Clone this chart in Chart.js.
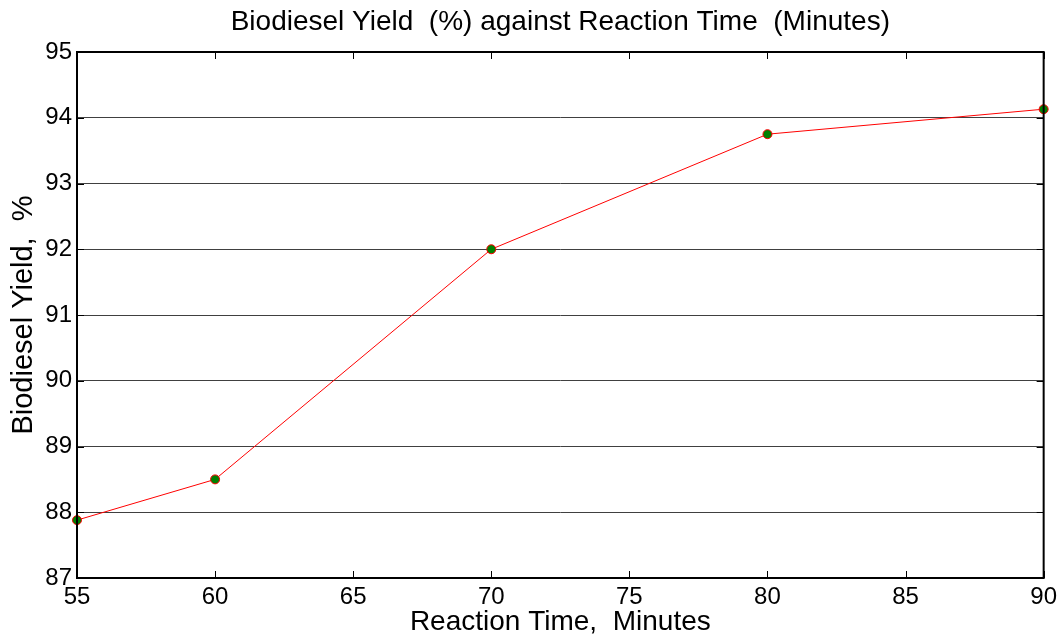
<!DOCTYPE html>
<html>
<head>
<meta charset="utf-8">
<script src="https://cdn.jsdelivr.net/npm/chart.js@4"></script>
<style>
  html, body { margin: 0; padding: 0; background: #fff; }
  #wrap { width: 1062px; height: 640px; }
</style>
</head>
<body>
<div id="wrap"><canvas id="yield-chart"></canvas></div>
<script>
(function() {

  const reactionTime = [55, 60, 70, 80, 90];
  const biodieselYield = [87.88, 88.5, 92.0, 93.75, 94.13];
  const xTicks = [55, 60, 65, 70, 75, 80, 85, 90];
  const yTicks = [87, 88, 89, 90, 91, 92, 93, 94, 95];

  const fontFamily = "'Liberation Sans', Arial, sans-serif";

  // matlab style box with ticks pointing inwards
  const boxPlugin = {
    id: 'box',
    afterDraw(chart) {
      const { ctx, chartArea: a, scales } = chart;
      ctx.save();
      ctx.strokeStyle = '#000';
      ctx.lineWidth = 1;
      ctx.beginPath();
      xTicks.forEach(v => {
        const px = Math.round(scales.x.getPixelForValue(v)) + 0.5;
        ctx.moveTo(px, a.bottom); ctx.lineTo(px, a.bottom - 7);
        ctx.moveTo(px, a.top); ctx.lineTo(px, a.top + 7);
      });
      yTicks.forEach(v => {
        const py = Math.round(scales.y.getPixelForValue(v)) + 0.5;
        ctx.moveTo(a.left, py); ctx.lineTo(a.left + 7, py);
        ctx.moveTo(a.right, py); ctx.lineTo(a.right - 7, py);
      });
      ctx.stroke();
      ctx.lineWidth = 2;
      ctx.strokeRect(a.left, a.top, a.right - a.left, a.bottom - a.top);
      ctx.restore();
    }
  };

  const ctx = document.getElementById('yield-chart').getContext('2d');
  new Chart(ctx, {
    type: 'line',
    data: {
      datasets: [{
        data: reactionTime.map((t, i) => ({ x: t, y: biodieselYield[i] })),
        borderColor: '#ff0000',
        borderWidth: 1,
        pointRadius: 4.5,
        pointBackgroundColor: '#008000',
        pointBorderColor: '#ff0000',
        pointBorderWidth: 1,
        tension: 0,
        clip: false
      }]
    },
    options: {
      responsive: true,
      maintainAspectRatio: false,
      animation: false,
      layout: { padding: { left: 0, right: 16, top: 0, bottom: 0 } },
      plugins: {
        legend: { display: false },
        tooltip: { enabled: false },
        title: {
          display: true,
          fullSize: false,
          text: 'Biodiesel Yield  (%) against Reaction Time  (Minutes)',
          color: '#000',
          font: { family: fontFamily, size: 28, weight: 'normal' },
          padding: { top: 5, bottom: 13.4 }
        }
      },
      scales: {
        x: {
          type: 'linear',
          min: 55,
          max: 90,
          afterFit(scale) { scale.height = 62; },
          afterBuildTicks(scale) { scale.ticks = xTicks.map(v => ({ value: v })); },
          grid: { display: false, drawTicks: false },
          border: { display: false },
          ticks: {
            color: '#000',
            padding: 5,
            font: { family: fontFamily, size: 24 }
          },
          title: {
            display: true,
            text: 'Reaction Time,  Minutes',
            color: '#000',
            font: { family: fontFamily, size: 28 },
            padding: { top: 0, bottom: 1 }
          }
        },
        y: {
          min: 87,
          max: 95,
          afterFit(scale) { scale.width = 77; },
          afterBuildTicks(scale) { scale.ticks = yTicks.map(v => ({ value: v })); },
          grid: { color: '#404040', lineWidth: 1, drawTicks: false },
          border: { display: false },
          ticks: {
            color: '#000',
            padding: 5,
            font: { family: fontFamily, size: 24 }
          },
          title: {
            display: true,
            text: 'Biodiesel Yield,  %',
            color: '#000',
            font: { family: fontFamily, size: 29 },
            padding: { top: 7, bottom: 0 }
          }
        }
      }
    },
    plugins: [boxPlugin]
  });
})();
</script>
</body>
</html>
